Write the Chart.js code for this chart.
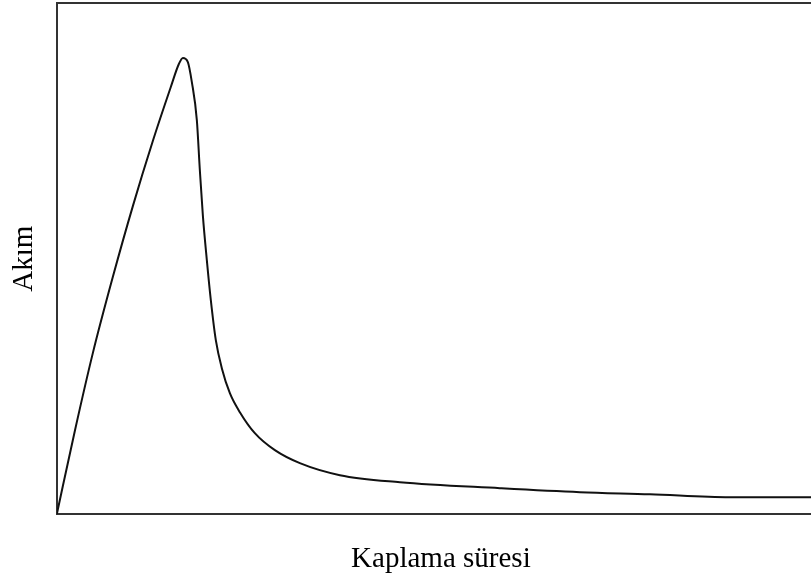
<!DOCTYPE html>
<html>
<head>
<meta charset="utf-8">
<script src="https://cdn.jsdelivr.net/npm/chart.js@4/dist/chart.umd.min.js"></script>
<style>
    html, body { margin: 0; padding: 0; background: #fff; overflow: hidden; }
    #wrap { position: relative; width: 825px; height: 581px; }
</style>
</head>
<body>
<div id="wrap"><canvas id="coatingChart"></canvas></div>
<script>
// coating time (arbitrary units, 0-100) and current (arbitrary units)
const coatingTime = [0, 2.34, 4.69, 7.29, 9.90, 12.50, 14.84, 15.89, 16.41, 17.06, 17.58, 18.23, 18.62, 19.01, 19.53, 20.05, 20.70, 21.48, 22.53, 23.83, 25.78, 28.39, 31.64, 36.85, 44.66, 57.68, 68.10, 77.21, 87.63, 100];
const current = [0, 16.24, 31.51, 46.38, 60.27, 73.00, 83.56, 88.06, 89.24, 88.45, 84.54, 77.10, 67.32, 58.51, 49.71, 41.88, 34.05, 28.57, 23.68, 19.96, 15.85, 12.52, 9.98, 7.63, 6.26, 5.09, 4.31, 3.91, 3.33, 3.33];

const xTitle = 'Kaplama süresi';
const yTitle = 'Akım';

window.addEventListener('DOMContentLoaded', function () {
    const serif = "'Liberation Serif', 'Times New Roman', serif";

    function frameAxis(position) {
        return {
            type: 'linear',
            position: position,
            display: true,
            min: 0,
            max: 100,
            ticks: { display: false },
            grid: { display: false, drawTicks: false },
            border: { display: true, color: '#333', width: 2 }
        };
    }

    const xAxis = frameAxis('bottom');
    xAxis.title = {
        display: true,
        text: xTitle,
        color: '#000',
        font: { family: serif, size: 29 },
        padding: { top: 28, bottom: 4 }
    };
    const yAxis = frameAxis('left');
    yAxis.title = {
        display: true,
        text: yTitle,
        color: '#000',
        font: { family: serif, size: 29 },
        padding: { top: 7, bottom: 15 }
    };

    new Chart(document.getElementById('coatingChart'), {
        type: 'line',
        data: {
            datasets: [{
                label: yTitle,
                data: coatingTime.map(function (t, i) { return { x: t, y: current[i] }; }),
                borderColor: '#111',
                borderWidth: 2,
                pointRadius: 0,
                fill: false,
                cubicInterpolationMode: 'monotone'
            }]
        },
        options: {
            responsive: true,
            maintainAspectRatio: false,
            animation: false,
            layout: { padding: { top: 3, left: 0, right: 0, bottom: 0 } },
            plugins: {
                legend: { display: false },
                tooltip: { enabled: false }
            },
            scales: {
                x: xAxis,
                y: yAxis,
                x2: frameAxis('top'),
                y2: frameAxis('right')
            }
        }
    });
});
</script>
</body>
</html>
